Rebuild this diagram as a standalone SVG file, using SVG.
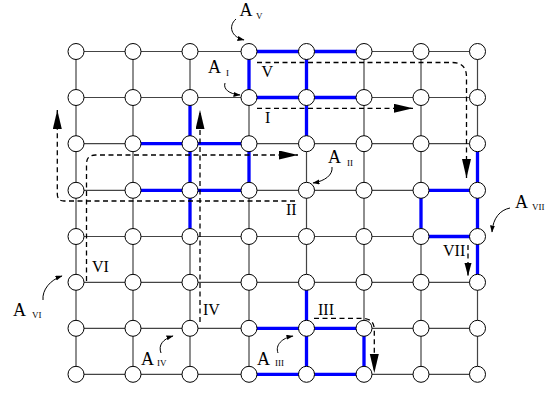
<svg xmlns="http://www.w3.org/2000/svg" width="559" height="393" viewBox="0 0 559 393">
<style>
.grid{stroke:#444;stroke-width:1.2;fill:none}
.blue{stroke:#0000ff;stroke-width:3.3;fill:none;stroke-linecap:butt}
.nd{fill:#fff;stroke:#000;stroke-width:1}
.dash{stroke:#000;stroke-width:1.3;fill:none;stroke-dasharray:5,3.5}
.cur{stroke:#000;stroke-width:1;fill:none}
.lbl{font-family:"Liberation Serif","Times New Roman",serif;font-size:16px;fill:#000}
.A{font-family:"Liberation Serif","Times New Roman",serif;font-size:18px;fill:#000}
.sub{font-family:"Liberation Serif","Times New Roman",serif;font-size:9px;fill:#000}
</style>
<defs>
<marker id="big" markerUnits="userSpaceOnUse" markerWidth="20" markerHeight="10" refX="19" refY="4.5" orient="auto"><path d="M0,0L19,4.5L0,9z" fill="#000"/></marker>
<marker id="mid" markerUnits="userSpaceOnUse" markerWidth="14" markerHeight="8" refX="13" refY="3.5" orient="auto"><path d="M0,0L13,3.5L0,7z" fill="#000"/></marker>
<marker id="sm" markerUnits="userSpaceOnUse" markerWidth="8" markerHeight="6" refX="6.5" refY="2.5" orient="auto"><path d="M0,0L7,2.5L0,5z" fill="#000"/></marker>
</defs>
<g id="connectors">
<path class="grid" d="M76,51.5H477.5M76,97.5H477.5M76,143.7H477.5M76,190.3H477.5M76,236.5H477.5M76,282.3H477.5M76,328.3H477.5M76,374.3H477.5M76,51.5V374.3M133,51.5V374.3M190,51.5V374.3M249,51.5V374.3M306.5,51.5V374.3M364,51.5V374.3M421,51.5V374.3M477.5,51.5V374.3"/>
<path class="blue" d="M249,51.5H364M249,97.5H364M133,143.7H249M133,190.3H249M421,190.3H477.5M421,236.5H477.5M249,328.3H364M249,374.3H364M249,51.5V97.5M306.5,51.5V143.7M190,97.5V236.5M249,143.7V190.3M477.5,143.7V282.3M421,190.3V236.5M306.5,282.3V374.3M364,328.3V374.3"/>
<path class="dash" d="M257,62.5H452Q466.5,62.5 466.5,77V178" marker-end="url(#big)"/>
<path class="dash" d="M257,108.3H413" marker-end="url(#big)"/>
<path class="dash" d="M295,201H64Q57.3,201 57.3,194V110" marker-end="url(#big)"/>
<path class="dash" d="M86.5,281V164Q86.5,155 95.5,155H298" marker-end="url(#big)"/>
<path class="dash" d="M200,322V110" marker-end="url(#big)"/>
<path class="dash" d="M468,245V276" marker-end="url(#mid)"/>
<path class="dash" d="M314,318.3H362Q374.3,318.3 374.3,330V373" marker-end="url(#big)"/>
<path class="cur" d="M236,19C228,26 231,37 244,40" marker-end="url(#sm)"/>
<path class="cur" d="M225,83C223,89 229,94 240,95" marker-end="url(#sm)"/>
<path class="cur" d="M332,167C333,175 325,181 313,183" marker-end="url(#sm)"/>
<path class="cur" d="M510,208C500,210 493,218 492,232" marker-end="url(#sm)"/>
<path class="cur" d="M43,300C42,290 50,280 62,276" marker-end="url(#sm)"/>
<path class="cur" d="M161,353C158,345 163,339 173,336" marker-end="url(#sm)"/>
<path class="cur" d="M278,353C275,345 282,338 293,336" marker-end="url(#sm)"/>
</g>
<g id="nodes">
<g id="n00"><circle class="nd" cx="76" cy="51.5" r="8"/></g><g id="n10"><circle class="nd" cx="133" cy="51.5" r="8"/></g><g id="n20"><circle class="nd" cx="190" cy="51.5" r="8"/></g><g id="n30"><circle class="nd" cx="249" cy="51.5" r="8"/></g><g id="n40"><circle class="nd" cx="306.5" cy="51.5" r="8"/></g><g id="n50"><circle class="nd" cx="364" cy="51.5" r="8"/></g><g id="n60"><circle class="nd" cx="421" cy="51.5" r="8"/></g><g id="n70"><circle class="nd" cx="477.5" cy="51.5" r="8"/></g>
<g id="n01"><circle class="nd" cx="76" cy="97.5" r="8"/></g><g id="n11"><circle class="nd" cx="133" cy="97.5" r="8"/></g><g id="n21"><circle class="nd" cx="190" cy="97.5" r="8"/></g><g id="n31"><circle class="nd" cx="249" cy="97.5" r="8"/></g><g id="n41"><circle class="nd" cx="306.5" cy="97.5" r="8"/></g><g id="n51"><circle class="nd" cx="364" cy="97.5" r="8"/></g><g id="n61"><circle class="nd" cx="421" cy="97.5" r="8"/></g><g id="n71"><circle class="nd" cx="477.5" cy="97.5" r="8"/></g>
<g id="n02"><circle class="nd" cx="76" cy="143.7" r="8"/></g><g id="n12"><circle class="nd" cx="133" cy="143.7" r="8"/></g><g id="n22"><circle class="nd" cx="190" cy="143.7" r="8"/></g><g id="n32"><circle class="nd" cx="249" cy="143.7" r="8"/></g><g id="n42"><circle class="nd" cx="306.5" cy="143.7" r="8"/></g><g id="n52"><circle class="nd" cx="364" cy="143.7" r="8"/></g><g id="n62"><circle class="nd" cx="421" cy="143.7" r="8"/></g><g id="n72"><circle class="nd" cx="477.5" cy="143.7" r="8"/></g>
<g id="n03"><circle class="nd" cx="76" cy="190.3" r="8"/></g><g id="n13"><circle class="nd" cx="133" cy="190.3" r="8"/></g><g id="n23"><circle class="nd" cx="190" cy="190.3" r="8"/></g><g id="n33"><circle class="nd" cx="249" cy="190.3" r="8"/></g><g id="n43"><circle class="nd" cx="306.5" cy="190.3" r="8"/></g><g id="n53"><circle class="nd" cx="364" cy="190.3" r="8"/></g><g id="n63"><circle class="nd" cx="421" cy="190.3" r="8"/></g><g id="n73"><circle class="nd" cx="477.5" cy="190.3" r="8"/></g>
<g id="n04"><circle class="nd" cx="76" cy="236.5" r="8"/></g><g id="n14"><circle class="nd" cx="133" cy="236.5" r="8"/></g><g id="n24"><circle class="nd" cx="190" cy="236.5" r="8"/></g><g id="n34"><circle class="nd" cx="249" cy="236.5" r="8"/></g><g id="n44"><circle class="nd" cx="306.5" cy="236.5" r="8"/></g><g id="n54"><circle class="nd" cx="364" cy="236.5" r="8"/></g><g id="n64"><circle class="nd" cx="421" cy="236.5" r="8"/></g><g id="n74"><circle class="nd" cx="477.5" cy="236.5" r="8"/></g>
<g id="n05"><circle class="nd" cx="76" cy="282.3" r="8"/></g><g id="n15"><circle class="nd" cx="133" cy="282.3" r="8"/></g><g id="n25"><circle class="nd" cx="190" cy="282.3" r="8"/></g><g id="n35"><circle class="nd" cx="249" cy="282.3" r="8"/></g><g id="n45"><circle class="nd" cx="306.5" cy="282.3" r="8"/></g><g id="n55"><circle class="nd" cx="364" cy="282.3" r="8"/></g><g id="n65"><circle class="nd" cx="421" cy="282.3" r="8"/></g><g id="n75"><circle class="nd" cx="477.5" cy="282.3" r="8"/></g>
<g id="n06"><circle class="nd" cx="76" cy="328.3" r="8"/></g><g id="n16"><circle class="nd" cx="133" cy="328.3" r="8"/></g><g id="n26"><circle class="nd" cx="190" cy="328.3" r="8"/></g><g id="n36"><circle class="nd" cx="249" cy="328.3" r="8"/></g><g id="n46"><circle class="nd" cx="306.5" cy="328.3" r="8"/></g><g id="n56"><circle class="nd" cx="364" cy="328.3" r="8"/></g><g id="n66"><circle class="nd" cx="421" cy="328.3" r="8"/></g><g id="n76"><circle class="nd" cx="477.5" cy="328.3" r="8"/></g>
<g id="n07"><circle class="nd" cx="76" cy="374.3" r="8"/></g><g id="n17"><circle class="nd" cx="133" cy="374.3" r="8"/></g><g id="n27"><circle class="nd" cx="190" cy="374.3" r="8"/></g><g id="n37"><circle class="nd" cx="249" cy="374.3" r="8"/></g><g id="n47"><circle class="nd" cx="306.5" cy="374.3" r="8"/></g><g id="n57"><circle class="nd" cx="364" cy="374.3" r="8"/></g><g id="n67"><circle class="nd" cx="421" cy="374.3" r="8"/></g><g id="n77"><circle class="nd" cx="477.5" cy="374.3" r="8"/></g>
</g>
<g id="labels">
<text class="lbl" x="261.5" y="77">V</text>
<text class="lbl" x="265" y="123">I</text>
<text class="lbl" x="286" y="215">II</text>
<text class="lbl" x="318" y="315">III</text>
<text class="lbl" x="203" y="315">IV</text>
<text class="lbl" x="92" y="272">VI</text>
<text class="lbl" x="443" y="256">VII</text>
<text class="A" x="239.5" y="15.5">A</text><text class="sub" x="256" y="19">V</text>
<text class="A" x="208" y="73">A</text><text class="sub" x="226" y="76">I</text>
<text class="A" x="328" y="163">A</text><text class="sub" x="347" y="165.5">II</text>
<text class="A" x="515" y="208">A</text><text class="sub" x="532" y="210">VII</text>
<text class="A" x="13" y="315.5">A</text><text class="sub" x="32" y="317.5">VI</text>
<text class="A" x="141" y="365">A</text><text class="sub" x="157" y="365.5">IV</text>
<text class="A" x="257" y="365">A</text><text class="sub" x="275" y="365.5">III</text>
</g>
</svg>
